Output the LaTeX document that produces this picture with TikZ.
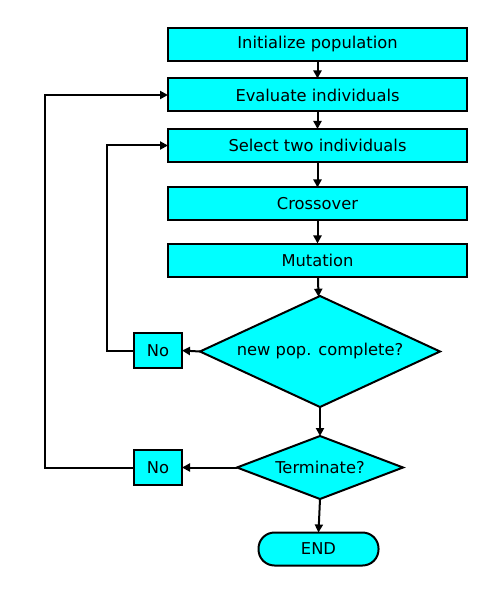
\documentclass[tikz,border=0pt]{standalone}
\usepackage{fontspec}
\setmainfont{DejaVu Sans}
\usetikzlibrary{shapes.geometric,arrows.meta}
\definecolor{boxcyan}{HTML}{00FFFF}
\begin{document}
\begin{tikzpicture}[x=1pt,y=-1pt,
  every node/.style={font=\fontsize{16.3}{19}\selectfont, inner sep=0pt, outer sep=0pt},
  stepbox/.style={draw, line width=2pt, fill=boxcyan, minimum width=299pt, minimum height=33pt},
  nobox/.style={draw, line width=2pt, fill=boxcyan, minimum width=48pt, minimum height=35pt},
  decision/.style={draw, line width=2pt, fill=boxcyan, diamond},
  endbox/.style={draw, line width=2pt, fill=boxcyan, minimum width=120pt, minimum height=33pt, rounded corners=16pt},
  conn/.style={line width=2pt, -{Triangle[length=8pt,width=8pt]}}]
\useasboundingbox (0,0) rectangle (479,609);
\node[stepbox] (init) at (317.5,44.5) {Initialize population};
\node[stepbox] (eval) at (317.5,95) {Evaluate individuals};
\node[stepbox] (sel) at (317.5,145.5) {Select two individuals};
\node[stepbox] (cross) at (317.5,204) {Crossover};
\node[stepbox] (mut) at (317.5,260) {Mutation};
\node[decision, aspect=2.162, minimum width=240pt, minimum height=111pt] (d1) at (320,351.5) {new pop. complete?};
\node[decision, aspect=2.635, minimum width=166pt, minimum height=63pt] (d2) at (320,467.5) {Terminate?};
\node[nobox] (no1) at (158,350.5) {No};
\node[nobox] (no2) at (158,467.5) {No};
\node[endbox] (end) at (318.5,549) {END};
\draw[conn] (init) -- (eval);
\draw[conn] (eval) -- (sel);
\draw[conn] (sel) -- (cross);
\draw[conn] (cross) -- (mut);
\draw[conn] (mut) -- (d1);
\draw[conn] (d1) -- (d2);
\draw[conn] (d1.west) -- (no1.east);
\draw[conn] (d2.west) -- (no2.east);
\draw[conn] (d2.south) -- (end.north);
\draw[conn] (no1.west) -- ++(-27,0) |- (sel.west);
\draw[conn] (no2.west) -- ++(-89,0) |- (eval.west);
\end{tikzpicture}
\end{document}
